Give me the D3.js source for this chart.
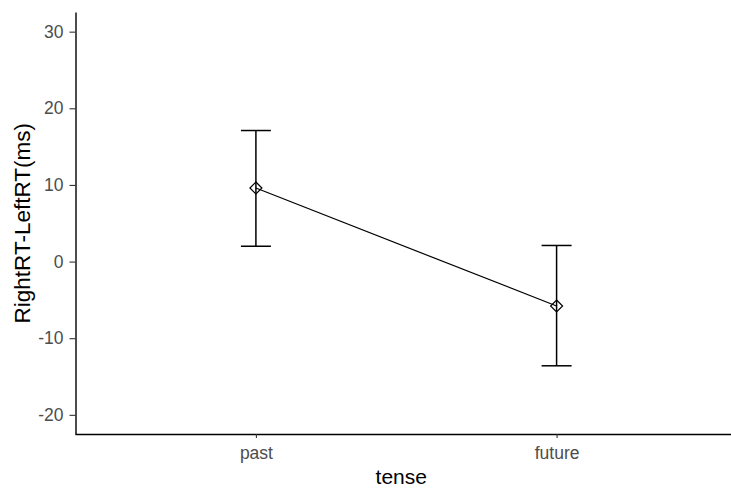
<!DOCTYPE html>
<html>
<head>
<meta charset="utf-8">
<script src="https://cdn.jsdelivr.net/npm/d3@7"></script>
<style>
  html, body { margin: 0; padding: 0; background: #fff; }
  svg { display: block; font-family: "Liberation Sans", Arial, sans-serif; }
</style>
</head>
<body>
<div id="chart"></div>
<script>
'use strict';

// Data
var tenses = ['past', 'future'];
var means = [9.6, -5.8];
var lower = [2.0, -13.6];
var upper = [17.1, 2.1];
var yTicks = [-20, -10, 0, 10, 20, 30];

var width = 731, height = 490;
var panel = { left: 75.5, right: 737, top: 12.5, bottom: 434 };

var svg = d3.select('#chart').append('svg')
  .attr('width', width)
  .attr('height', height);

// Scales (discrete x with ggplot-like 0.6 expansion)
var x = d3.scaleLinear()
  .domain([0.4, tenses.length + 0.6])
  .range([panel.left, panel.right]);
var y = d3.scaleLinear()
  .domain([-22.5, 32.5])
  .range([panel.bottom, panel.top]);

var rows = tenses.map(function (t, i) {
  return { tense: t, pos: i + 1, mean: means[i], lo: lower[i], hi: upper[i] };
});

// ── Axes ──────────────────────────────────────────
var yAxis = svg.append('g')
  .attr('transform', 'translate(' + panel.left + ',0)')
  .call(d3.axisLeft(y).tickValues(yTicks).tickSize(6).tickPadding(6)
    .tickFormat(function (d) { return String(d); }));
var xAxis = svg.append('g')
  .attr('transform', 'translate(0,' + panel.bottom + ')')
  .call(d3.axisBottom(x).tickValues([1, 2]).tickSize(4).tickPadding(9)
    .tickFormat(function (d) { return tenses[d - 1]; }));

[yAxis, xAxis].forEach(function (ax) {
  ax.select('.domain').attr('stroke', '#000').attr('stroke-width', 1.4);
  ax.selectAll('.tick line').attr('stroke', '#333').attr('stroke-width', 1.1);
  ax.selectAll('.tick text')
    .attr('fill', '#4d4d4d')
    .style('font-size', '17.5px')
    .style('font-family', '"Liberation Sans", Arial, sans-serif');
});
yAxis.select('.domain').attr('d', 'M0.5,' + panel.top + 'V' + (panel.bottom + 0.5));
xAxis.select('.domain').attr('d', 'M' + panel.left + ',0.5H' + panel.right);

// Axis titles
svg.append('text')
  .attr('x', (panel.left + panel.right) / 2 - 5)
  .attr('y', 484)
  .attr('text-anchor', 'middle')
  .style('font-size', '21px')
  .attr('fill', '#000')
  .text('tense');
svg.append('text')
  .attr('transform', 'translate(30,' + ((panel.top + panel.bottom) / 2) + ') rotate(-90)')
  .attr('text-anchor', 'middle')
  .style('font-size', '22.5px')
  .attr('fill', '#000')
  .text('RightRT-LeftRT(ms)');

// ── Marks ─────────────────────────────────────────
var line = d3.line()
  .x(function (d) { return x(d.pos); })
  .y(function (d) { return y(d.mean); });
svg.append('path')
  .datum(rows)
  .attr('d', line)
  .attr('fill', 'none')
  .attr('stroke', '#000')
  .attr('stroke-width', 1.2);

var capHalf = 15;
var err = svg.append('g').selectAll('g')
  .data(rows)
  .join('g')
  .attr('stroke', '#000')
  .attr('stroke-width', 1.5);
err.append('line')
  .attr('x1', function (d) { return x(d.pos); })
  .attr('x2', function (d) { return x(d.pos); })
  .attr('y1', function (d) { return y(d.lo); })
  .attr('y2', function (d) { return y(d.hi); });
err.append('line')
  .attr('x1', function (d) { return x(d.pos) - capHalf; })
  .attr('x2', function (d) { return x(d.pos) + capHalf; })
  .attr('y1', function (d) { return y(d.hi); })
  .attr('y2', function (d) { return y(d.hi); });
err.append('line')
  .attr('x1', function (d) { return x(d.pos) - capHalf; })
  .attr('x2', function (d) { return x(d.pos) + capHalf; })
  .attr('y1', function (d) { return y(d.lo); })
  .attr('y2', function (d) { return y(d.lo); });

// Open diamond points (shape 5)
svg.append('g').selectAll('path')
  .data(rows)
  .join('path')
  .attr('transform', function (d) { return 'translate(' + x(d.pos) + ',' + y(d.mean) + ')'; })
  .attr('d', 'M0,-6L6,0L0,6L-6,0Z')
  .attr('fill', 'none')
  .attr('stroke', '#000')
  .attr('stroke-width', 1.2);
</script>
</body>
</html>
